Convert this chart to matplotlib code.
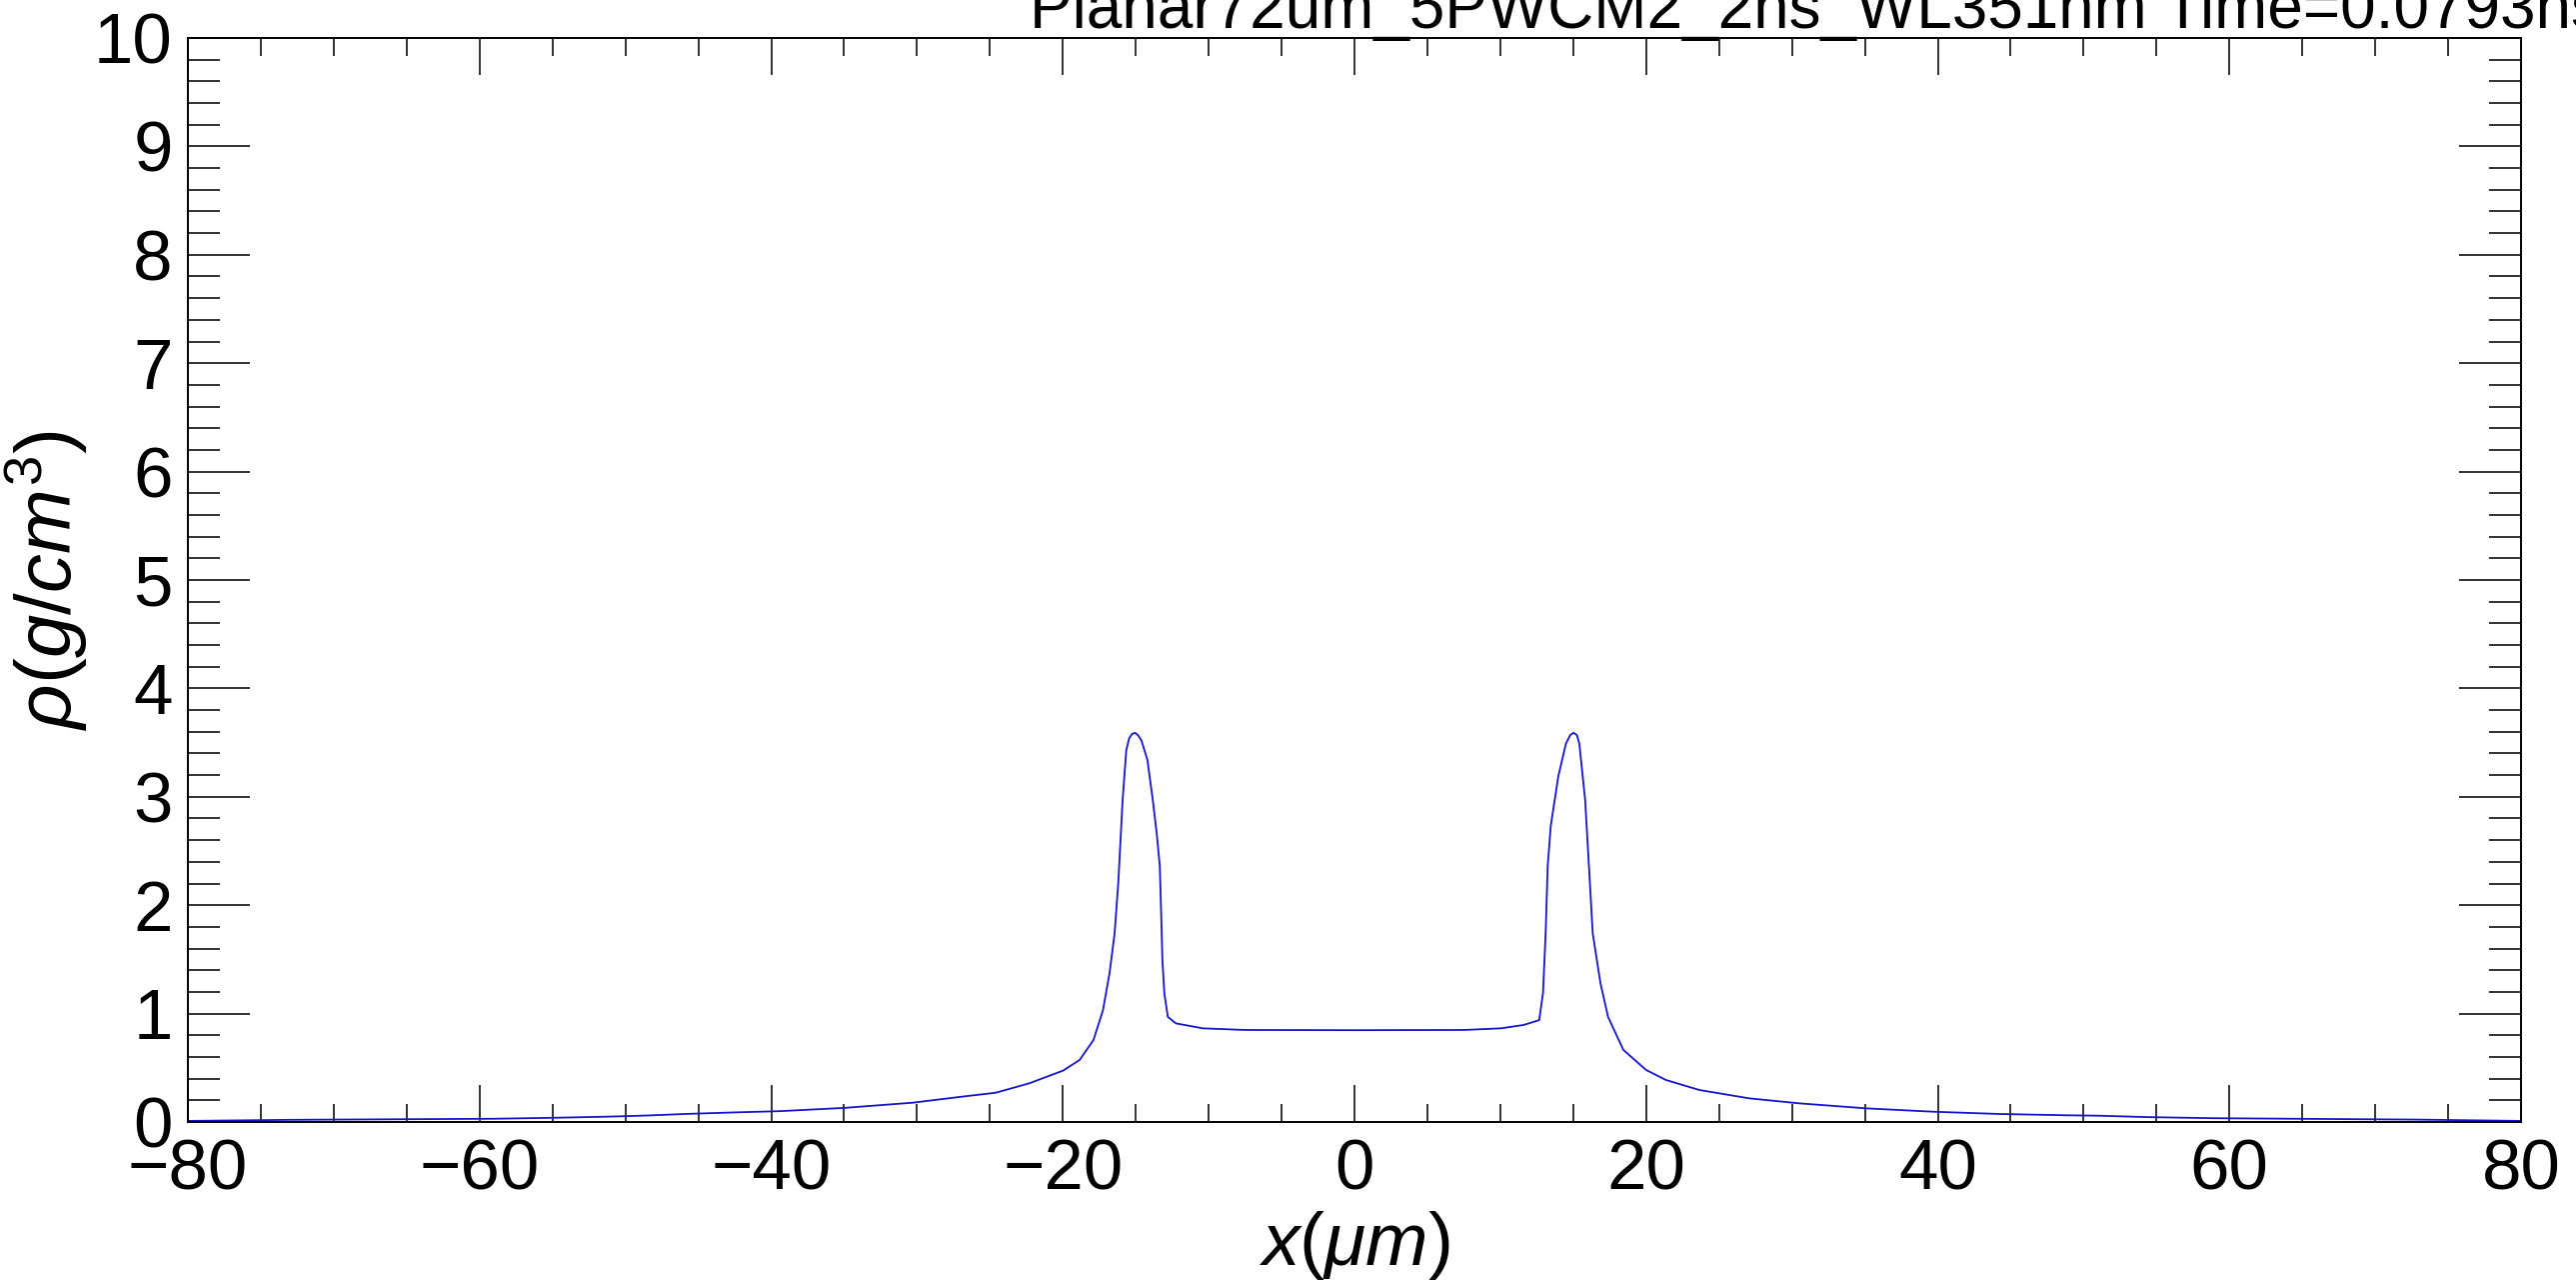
import numpy as np
import matplotlib
matplotlib.use('Agg')
import matplotlib.pyplot as plt
from matplotlib.ticker import MultipleLocator

# density profile (x in um, rho in g/cm^3)
x_um = [-80.0, -73.0, -59.0, -54.5, -51.0, -48.5, -45.7, -42.4, -39.4, -35.0,
        -30.3, -26.9, -24.6, -22.3, -20.0, -18.85, -17.9, -17.25, -16.8, -16.45,
        -16.2, -15.9, -15.65, -15.45, -15.25, -15.05, -14.85, -14.61, -14.2, -13.83,
        -13.56, -13.35, -13.25, -13.17, -13.04, -12.8, -12.25, -10.4, -7.5, 0.0,
        7.5, 10.04, 11.6, 12.67, 12.93, 13.11, 13.25, 13.46, 13.98, 14.5,
        14.8, 15.03, 15.25, 15.42, 15.82, 16.08, 16.34, 16.87, 17.39, 18.44,
        20.0, 21.37, 23.66, 27.08, 30.51, 35.08, 39.65, 44.22, 48.79, 51.08,
        54.4, 59.0, 72.9, 80.0]
rho = [0.01, 0.02, 0.03, 0.04, 0.05, 0.06, 0.075, 0.089, 0.10, 0.13,
       0.178, 0.234, 0.27, 0.357, 0.473, 0.572, 0.756, 1.03, 1.37, 1.74,
       2.20, 2.97, 3.43, 3.54, 3.58, 3.59, 3.57, 3.52, 3.34, 2.97,
       2.66, 2.36, 1.89, 1.49, 1.19, 0.97, 0.91, 0.864, 0.849, 0.847,
       0.849, 0.864, 0.895, 0.94, 1.19, 1.74, 2.36, 2.73, 3.19, 3.49,
       3.57, 3.59, 3.57, 3.49, 2.97, 2.36, 1.74, 1.28, 0.97, 0.665,
       0.48, 0.387, 0.295, 0.218, 0.172, 0.126, 0.095, 0.074, 0.062, 0.058,
       0.045, 0.035, 0.022, 0.01]

title = 'Planar72um_5PWCM2_2ns_WL351nm Time=0.0793ns'

plt.rcParams['font.family'] = ['Liberation Sans', 'DejaVu Sans']
plt.rcParams['mathtext.fontset'] = 'custom'
plt.rcParams['mathtext.rm'] = 'Liberation Sans'
plt.rcParams['mathtext.it'] = 'Liberation Sans:italic'

W, H = 2577, 1283
fig = plt.figure(figsize=(W / 100, H / 100), dpi=100)
ax = fig.add_axes([188 / W, 1 - 1122 / H, (2522 - 188) / W, (1122 - 38) / H])

ax.plot(x_um, rho, '-', color='#1515cc', lw=1.3)
ax.set_xlim(-80, 80)
ax.set_ylim(0, 10)

ax.xaxis.set_major_locator(MultipleLocator(20))
ax.xaxis.set_minor_locator(MultipleLocator(5))
ax.yaxis.set_major_locator(MultipleLocator(1))
ax.yaxis.set_minor_locator(MultipleLocator(0.2))

for s in ax.spines.values():
    s.set_linewidth(1.4)

ax.tick_params(axis='both', which='both', direction='in', top=True, right=True,
               width=1.3, colors='#222222', labelcolor='black', labelsize=51)
ax.tick_params(axis='x', which='major', length=26.5, pad=12)
ax.tick_params(axis='x', which='minor', length=13)
ax.tick_params(axis='y', which='major', length=44.5, pad=11)
ax.tick_params(axis='y', which='minor', length=23)

fig.text(1030 / W, 1 - 28 / H, title, fontsize=46, ha='left', va='baseline')
fig.text(1355 / W, 1 - 1265 / H, r'$x(\mu m)$', fontsize=54,
         ha='center', va='baseline')
fig.text(72 / W, 1 - 580 / H, r'$\rho(g/cm^{3})$', fontsize=56, rotation=90,
         rotation_mode='anchor', ha='center', va='baseline')

fig.savefig('out.png', dpi=100)
